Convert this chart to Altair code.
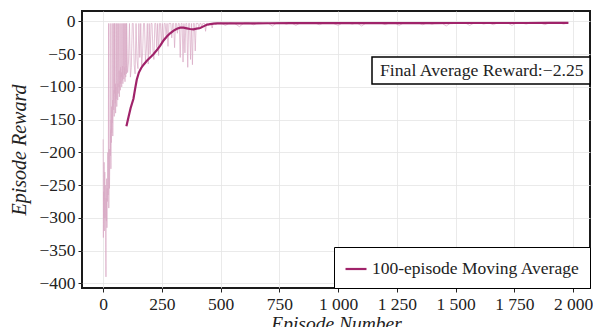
import altair as alt
import pandas as pd

# ---- raw episode rewards ----
early_r = [
    -180, -330, -260, -300, -215, -320, -270, -230, -300, -250,
    -285, -350, -390, -270, -305, -240, -315, -255, -275, -225,
    -200, -265, -245, -3, -285, -235, -195, -255, -220, -175,
    -3, -205, -165, -225, -150, -185, -130, -170, -3, -155,
    -120, -175, -140, -3, -115, -135, -105, -145, -3, -110,
    -3, -125, -95, -140, -100, -118, -3, -90, -130, -105,
    -3, -85, -120, -95, -110, -3, -88, -100, -75, -115,
    -90, -3, -80, -105, -70, -95, -3, -85, -78, -100,
    -72, -3, -90, -68, -95, -80, -3, -75, -88, -65,
    -3, -82, -70, -92, -3, -66, -85, -74, -3, -80,
]
mid_r = [
    -3, -78, -62, -3, -85, -70, -3, -3, -66, -80, -3, -58, -72,
    -3, -55, -3, -68, -48, -3, -3, -60, -42, -3, -65, -3, -50, -3, -3, -45, -58, -3, -3, -40, -3, -52, -3, -3, -35,
    -3, -30, -3, -3, -22, -3, -38, -3, -3, -3, -25, -3, -3, -40, -3, -3, -18, -3,
    -3, -55, -3, -3, -62, -3, -48, -3, -3, -70, -3, -3, -58, -3, -66, -3, -3, -45, -3, -3,
    -3, -12, -3, -3, -8, -3, -3, -3, -15, -3, -3, -6, -3, -3, -3, -10, -3, -3, -3, -5, -3, -3, -3, -3,
]
late_r = [
    -2, -6, -2, -3, -8, -2, -2, -5, -2, -3,
    -2, -7, -2, -2, -4, -2, -6, -2, -3, -2,
    -2, -5, -2, -2, -3, -6, -2, -2, -4, -2,
    -7, -2, -2, -3, -2, -5, -2, -2, -6, -2,
    -3, -2, -2, -5, -2, -4, -2, -2, -7, -2,
    -2, -3, -2, -6, -2, -2, -4, -2, -5, -2,
    -3, -2, -6, -2, -2, -4, -2, -3, -2, -5,
    -2, -3, -2, -4, -2,
]
raw_ep = list(range(0, 100)) + list(range(100, 500, 4)) + list(range(500, 2000, 20))
raw_r = early_r + mid_r + late_r

# ---- 100-episode moving average ----
avg_ep = [99, 108, 117, 129, 136, 143, 152, 162, 172, 186,
          200, 214, 228, 243, 257, 271, 285, 300, 314, 328,
          342, 356, 370, 384, 398, 413, 427, 441, 456, 470,
          485, 500, 600, 700, 800, 900, 1000, 1100, 1200, 1300,
          1400, 1500, 1600, 1700, 1800, 1900, 1980]
avg_r = [-160, -146, -132, -118, -103, -89, -78, -71, -66, -60,
         -55, -50, -44, -37, -29, -23, -18, -14, -11, -9.5,
         -9.5, -10.5, -11.5, -12, -11, -10, -7.5, -5, -4, -3.3,
         -3, -2.9, -2.8, -2.7, -2.6, -2.6, -2.5, -2.5, -2.4, -2.4,
         -2.4, -2.3, -2.3, -2.3, -2.3, -2.25, -2.25]

x_ticks = [0, 250, 500, 750, 1000, 1250, 1500, 1750, 2000]
y_ticks = [-400, -350, -300, -250, -200, -150, -100, -50, 0]
series_name = "100-episode Moving Average"
annotation = "Final Average Reward:\u22122.25"

FONT = "Liberation Serif"
AVG_COLOR = "#a0236a"
RAW_COLOR = "#d9a9c5"

raw_df = pd.DataFrame({"ep": raw_ep, "r": raw_r})
avg_df = pd.DataFrame({"ep": avg_ep, "r": avg_r, "series": series_name})

common_axis = dict(
    titleFontStyle="italic",
    titleFontWeight="normal",
    titleFont=FONT,
    titleColor="#222",
    labelFont=FONT,
    labelFontSize=17.5,
    labelColor="#222",
    labelPadding=3,
    tickColor="#222",
    tickSize=4,
    domain=False,
    grid=True,
    gridColor="#e4e4e4",
    gridWidth=0.8,
)

x_enc = alt.X(
    "ep:Q",
    scale=alt.Scale(domain=[-90, 2072], nice=False, zero=False),
    axis=alt.Axis(
        values=x_ticks,
        labelExpr="replace(format(datum.value, ','), ',', ' ')",
        title="Episode Number",
        titleFontSize=19.5,
        titlePadding=2,
        **common_axis,
    ),
)
y_enc = alt.Y(
    "r:Q",
    scale=alt.Scale(domain=[-407, 16], nice=False, zero=False),
    axis=alt.Axis(
        values=y_ticks,
        title="Episode Reward",
        titleFontSize=20,
        titlePadding=9,
        **common_axis,
    ),
)

raw_line = alt.Chart(raw_df).mark_line(color=RAW_COLOR, strokeWidth=1, opacity=0.7).encode(
    x=x_enc, y=y_enc, order="ep:Q"
)

avg_line = alt.Chart(avg_df).mark_line(strokeWidth=2.2).encode(
    x=x_enc,
    y=y_enc,
    color=alt.Color(
        "series:N",
        scale=alt.Scale(domain=[series_name], range=[AVG_COLOR]),
        legend=alt.Legend(
            title=None,
            orient="bottom-right",
            offset=0,
            fillColor="white",
            strokeColor="black",
            padding=10,
            cornerRadius=0,
            symbolType="stroke",
            symbolSize=440,
            symbolStrokeWidth=2.2,
            labelFont=FONT,
            labelFontSize=17.5,
            labelColor="#222",
            labelLimit=400,
        ),
    ),
)

dummy = pd.DataFrame({"k": [0]})
ann_box = alt.Chart(dummy).mark_rect(fill="white", stroke="black", strokeWidth=1.5).encode(
    x=alt.value(290), x2=alt.value(508), y=alt.value(46), y2=alt.value(73)
)
ann_text = alt.Chart(dummy).mark_text(
    align="left", baseline="middle", font=FONT, fontSize=17.7, color="#222", text=annotation
).encode(x=alt.value(298), y=alt.value(60))

chart = (
    alt.layer(raw_line, avg_line, ann_box, ann_text)
    .properties(
        width=508,
        height=277,
        autosize=alt.AutoSizeParams(type="none"),
        padding={"left": 74, "top": 3, "right": 3, "bottom": 39},
        background="white",
    )
    .configure(font=FONT)
    .configure_view(stroke="#1a1a1a", strokeWidth=2)
)

chart.save("out.html", embed_options={"renderer": "svg", "actions": False})
